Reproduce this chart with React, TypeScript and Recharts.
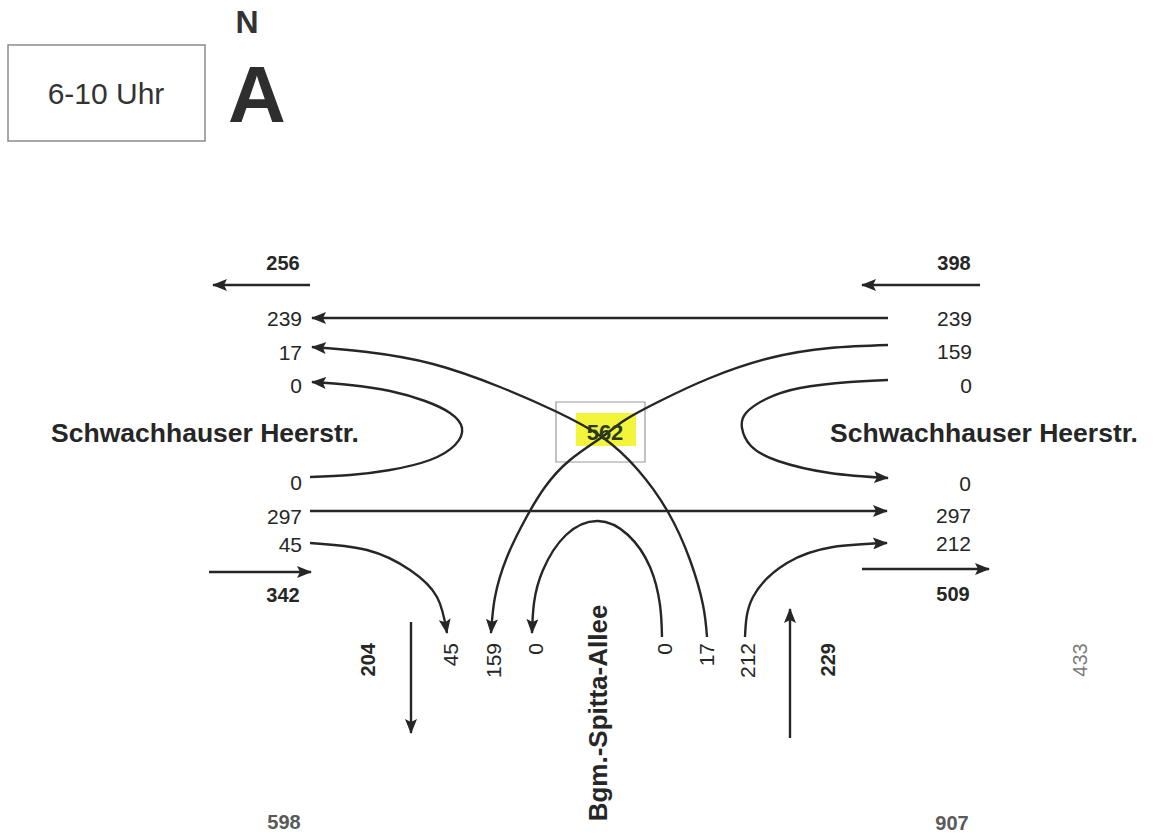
import { ComposedChart, Line, Scatter, XAxis, YAxis, ReferenceArea } from 'recharts'

// counted flows, node A, morning peak
const period = '6-10 Uhr'
const nodeName = 'A'
const northMark = 'N'
const mainRoad = 'Schwachhauser Heerstr.'
const sideRoad = 'Bgm.-Spitta-Allee'
const nodeTotal = 562

// west arm: leaving [from east, from south, u-turn], entering [u-turn, straight, right into south]
const westOut = [239, 17, 0]
const westIn = [0, 297, 45]
// east arm: entering [straight, left into south, u-turn], leaving [u-turn, straight, from south]
const eastIn = [239, 159, 0]
const eastOut = [0, 297, 212]
// south arm: leaving [from west, from east, u-turn], entering [u-turn, left to west, right to east]
const southOut = [45, 159, 0]
const southIn = [0, 17, 212]

// arm totals: west out, east in, west in, east out, south out, south in
const armTotals = [256, 398, 342, 509, 204, 229]
// cross section sums: west, east, south
const sectionTotals = [598, 907, 433]

// ---- drawing geometry (diagram units, y grows downwards) ----
type P = [number, number]
const routes: { id: string; pts: P[] }[] = [
  { id: 'e-w', pts: [[888, 318], [312, 318]] },
  { id: 's-w', pts: [[707, 637], [703, 605], [690, 560], [668, 512], [638, 470], [602, 437], [555, 411], [500, 387], [433, 364], [367, 352], [312, 347]] },
  { id: 'w-w', pts: [[310, 477], [350, 475], [390, 470], [430, 460], [455, 445], [462, 428], [450, 413], [425, 401], [390, 391], [350, 385], [312, 382]] },
  { id: 'e-e', pts: [[888, 380], [850, 382], [800, 388], [766, 399], [746, 413], [742, 428], [751, 446], [778, 461], [830, 473], [888, 478]] },
  { id: 'e-s', pts: [[888, 345], [830, 348], [770, 358], [710, 378], [660, 401], [625, 420], [602, 437], [570, 460], [545, 487], [526, 518], [507, 557], [495, 597], [491, 633]] },
  { id: 'w-e', pts: [[310, 511], [887, 511]] },
  { id: 'w-s', pts: [[310, 543], [367, 550], [410, 570], [437, 597], [447, 633]] },
  { id: 's-e', pts: [[745, 637], [753, 597], [787, 563], [833, 547], [887, 543]] },
  { id: 's-s', pts: [[662, 637], [660, 605], [650, 567], [628, 535], [598, 521], [566, 535], [543, 570], [534, 603], [532, 633]] },
  // arm total arrows
  { id: 'tot-w-out', pts: [[310, 285], [213, 285]] },
  { id: 'tot-e-in', pts: [[980, 285], [862, 285]] },
  { id: 'tot-w-in', pts: [[209, 572], [311, 572]] },
  { id: 'tot-e-out', pts: [[862, 569], [989, 569]] },
  { id: 'tot-s-out', pts: [[411, 622], [411, 733]] },
  { id: 'tot-s-in', pts: [[790, 738], [790, 609]] },
]

const font = '"Liberation Sans", Arial, Helvetica, sans-serif'
const ink = '#262626'

type Lbl = { x: number; y: number; label: string | number }
const at = (values: (string | number)[], xs: number[], ys: number[]): Lbl[] =>
  values.map((v, i) => ({ x: xs[i], y: ys[i], label: v }))

// plain flow numbers, right aligned
const flowLabels: Lbl[] = [
  ...at(westOut, [302, 302, 302], [318, 352, 385]),
  ...at(westIn, [302, 302, 302], [482, 516, 544]),
  ...at(eastIn, [972, 972, 972], [318, 351, 385]),
  ...at(eastOut, [971, 971, 971], [483, 515, 543]),
]
// rotated flow numbers on the south arm (end of text at top)
const southLabels: Lbl[] = [
  ...at(southOut, [450, 493, 535], [643, 643, 643]),
  ...at(southIn, [664, 706, 747], [643, 643, 643]),
]
const totalLabels: Lbl[] = at(armTotals.slice(0, 4), [283, 954, 283, 953], [263, 263, 595, 594])
const southTotals: Lbl[] = at(armTotals.slice(4), [368, 828], [643, 643])
const sectionLabels: Lbl[] = at(sectionTotals.slice(0, 2), [284, 952], [822, 823])
const sectionSouth: Lbl[] = at(sectionTotals.slice(2), [1080], [660])
const streetLabels: Lbl[] = at([mainRoad, mainRoad], [205, 984], [433, 433])
const sideLabel: Lbl[] = at([sideRoad], [598], [713])

function makeText(style: Record<string, any>, rotate = false) {
  return (p: any) => (
    <text
      x={p.cx}
      y={p.cy}
      dominantBaseline="central"
      fontFamily={font}
      transform={rotate ? `rotate(-90 ${p.cx} ${p.cy})` : undefined}
      {...style}
    >
      {p.payload.label}
    </text>
  )
}

export default function App() {
  return (
    <div style={{ position: 'absolute', left: 0, top: 0, width: 1153, height: 838, background: '#fff' }}>
      <ComposedChart width={1153} height={838} margin={{ top: 0, right: 0, bottom: 0, left: 0 }}>
        <defs>
          <marker id="tip" markerUnits="userSpaceOnUse" markerWidth={15} markerHeight={12} refX={14} refY={6} orient="auto">
            <path d="M0,0 L15,6 L0,12 L3,6 Z" fill={ink} />
          </marker>
        </defs>
        <XAxis type="number" dataKey="x" domain={[0, 1153]} hide allowDataOverflow />
        <YAxis type="number" dataKey="y" domain={[0, 838]} reversed hide allowDataOverflow />

        <ReferenceArea x1={8} x2={205} y1={45} y2={141} fill="none" stroke="#8c8c8c" strokeWidth={1.5} />
        <ReferenceArea x1={576} x2={636} y1={413} y2={446} fill="#f2f53a" fillOpacity={1} stroke="none" />
        <ReferenceArea x1={556} x2={645} y1={402} y2={462} fill="none" stroke="#9a9a9a" strokeWidth={1.2} />

        {routes.map((r) => (
          <Line
            key={r.id}
            data={r.pts.map(([x, y]) => ({ x, y }))}
            dataKey="y"
            type={r.pts.length > 2 ? 'natural' : 'linear'}
            stroke={ink}
            strokeWidth={2.4}
            dot={false}
            activeDot={false}
            markerEnd="url(#tip)"
            isAnimationActive={false}
          />
        ))}

        <Scatter data={at([period], [106], [93])} shape={makeText({ fontSize: 30, fill: '#333', textAnchor: 'middle' })} isAnimationActive={false} />
        <Scatter data={at([northMark], [247], [22])} shape={makeText({ fontSize: 32, fontWeight: 700, fill: '#333', textAnchor: 'middle' })} isAnimationActive={false} />
        <Scatter data={at([nodeName], [257], [94])} shape={makeText({ fontSize: 80, fontWeight: 700, fill: '#2e2e2e', textAnchor: 'middle' })} isAnimationActive={false} />
        <Scatter data={at([nodeTotal], [605], [432])} shape={makeText({ fontSize: 22, fontWeight: 700, fill: '#2a3a20', textAnchor: 'middle' })} isAnimationActive={false} />

        <Scatter data={flowLabels} shape={makeText({ fontSize: 21, fill: ink, textAnchor: 'end' })} isAnimationActive={false} />
        <Scatter data={southLabels} shape={makeText({ fontSize: 21, fill: ink, textAnchor: 'end' }, true)} isAnimationActive={false} />
        <Scatter data={totalLabels} shape={makeText({ fontSize: 20, fontWeight: 700, fill: ink, textAnchor: 'middle' })} isAnimationActive={false} />
        <Scatter data={southTotals} shape={makeText({ fontSize: 20, fontWeight: 700, fill: ink, textAnchor: 'end' }, true)} isAnimationActive={false} />
        <Scatter data={sectionLabels} shape={makeText({ fontSize: 20, fontWeight: 700, fill: '#5a5a5a', textAnchor: 'middle' })} isAnimationActive={false} />
        <Scatter data={sectionSouth} shape={makeText({ fontSize: 20, fill: '#7a7a7a', textAnchor: 'middle' }, true)} isAnimationActive={false} />
        <Scatter data={streetLabels} shape={makeText({ fontSize: 26.5, fontWeight: 700, fill: ink, textAnchor: 'middle' })} isAnimationActive={false} />
        <Scatter data={sideLabel} shape={makeText({ fontSize: 26, fontWeight: 700, fill: ink, textAnchor: 'middle' }, true)} isAnimationActive={false} />
      </ComposedChart>
    </div>
  )
}
